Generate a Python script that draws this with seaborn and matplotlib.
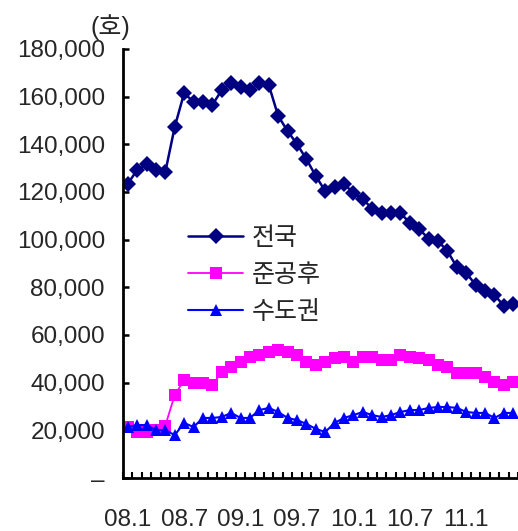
import numpy as np
import pandas as pd
import matplotlib
matplotlib.use("Agg")
import matplotlib.pyplot as plt
import seaborn as sns

# ---- data ----
months = ["08.1","08.2","08.3","08.4","08.5","08.6","08.7","08.8","08.9","08.10","08.11","08.12",
          "09.1","09.2","09.3","09.4","09.5","09.6","09.7","09.8","09.9","09.10","09.11","09.12",
          "10.1","10.2","10.3","10.4","10.5","10.6","10.7","10.8","10.9","10.10","10.11","10.12",
          "11.1","11.2","11.3","11.4","11.5","11.6"]
national = [123400,129200,131800,129200,128400,147300,161500,157800,157800,156500,162800,165700,
            164000,162800,165700,164900,151900,145600,140100,133800,126700,120400,122100,123400,
            119600,117100,112900,111200,111200,111200,107000,104500,100300,99400,95200,88500,
            86000,81000,78500,76800,72200,73000]
completed = [21400,19300,19300,20300,22000,34800,41100,39900,39900,39000,44500,46600,
             48700,50800,51600,52900,53700,52900,51600,48700,47400,48700,50400,50800,
             48700,50800,50800,49500,49500,51600,50800,50400,49500,47400,46600,44100,
             44100,44100,42400,40300,39000,40300]
capital = [21400,22200,22200,20100,20100,18000,23100,21400,25200,25200,25600,27300,
           25200,25200,28500,29400,27700,25200,24300,22700,20600,19300,23100,25200,
           26400,27700,26400,25600,26400,27700,28500,28500,29400,29800,29800,29400,
           27700,27300,27300,25200,27300,27300]
series_names = ["전국", "준공후", "수도권"]
xtick_labels = ["08.1", "08.7", "09.1", "09.7", "10.1", "10.7", "11.1"]
ytick_values = [0, 20000, 40000, 60000, 80000, 100000, 120000, 140000, 160000, 180000]
ytick_labels = ["–", "20,000", "40,000", "60,000", "80,000", "100,000", "120,000", "140,000", "160,000", "180,000"]
unit_label = "(호)"

sns.set_style("ticks")
plt.rcParams["font.family"] = ["Liberation Sans", "Noto Sans CJK KR", "DejaVu Sans"]

df = pd.DataFrame({"idx": np.arange(len(months)), "month": months,
                   series_names[0]: national, series_names[1]: completed, series_names[2]: capital})

fig = plt.figure(figsize=(5.18, 5.31), dpi=100)
ax = fig.add_axes([123/518, 1-478/531, 1-123/518, (478-49)/531])

styles = [
    dict(color="#000080", marker="D", markersize=8.2, linewidth=1.8, markeredgewidth=0),
    dict(color="#FF00FF", marker="s", markersize=8, linewidth=1.3, markeredgewidth=0),
    dict(color="#0000FF", marker="^", markersize=8.5, linewidth=1.5, markeredgewidth=0),
]
for name, st in zip(series_names, styles):
    sns.lineplot(data=df, x="idx", y=name, ax=ax, label=name, **st)

ax.set_xlim(-0.5, len(months) - 0.5)
ax.set_ylim(0, 180000)
ax.set_xlabel("")
ax.set_ylabel("")

lab_pos = [months.index(m) for m in xtick_labels]
ax.set_xticks(lab_pos)
ax.set_xticklabels(xtick_labels)
ax.set_xticks(np.arange(-0.5, len(months)), minor=True)
ax.tick_params(axis="x", which="major", length=0, pad=22, labelsize=17.5)
ax.tick_params(axis="x", which="minor", direction="in", length=4.5, width=1.5, color="black")

ax.set_yticks(ytick_values)
ax.set_yticklabels(ytick_labels)
ax.tick_params(axis="y", direction="in", length=4.5, width=1.8, color="black", pad=13, labelsize=17.5)

for s in ["top", "right"]:
    ax.spines[s].set_visible(False)
for s in ["left", "bottom"]:
    ax.spines[s].set_color("black")
    ax.spines[s].set_linewidth(2)

fig.text(110/518, 1-27/531, unit_label, fontsize=18, ha="center", va="center")

leg = ax.legend(loc="upper left", bbox_to_anchor=(188/518, 1-226/531), bbox_transform=fig.transFigure,
                frameon=False, fontsize=18, handlelength=2.2, handletextpad=0.35,
                labelspacing=0.52, borderpad=0, borderaxespad=0)

fig.savefig("out.png", dpi=100)
